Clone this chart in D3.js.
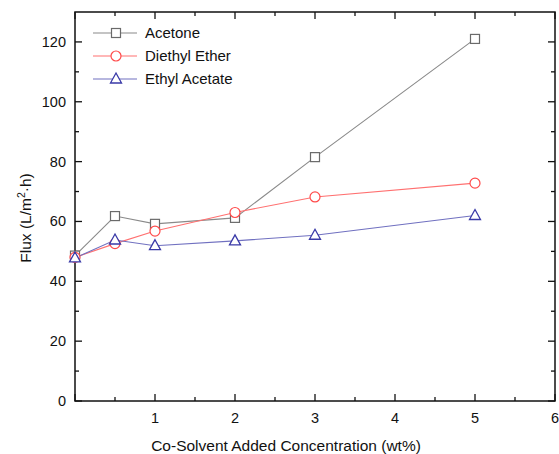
<!DOCTYPE html>
<html>
<head>
<meta charset="utf-8">
<script src="https://cdn.jsdelivr.net/npm/d3@7"></script>
<style>
body { margin: 0; background: #fff; }
text { font-family: Arial, "Liberation Sans", sans-serif; fill: #111; }
</style>
</head>
<body>
<div id="chart"></div>
<script>
// concentrations (wt%)
var conc = [0, 0.5, 1, 2, 3, 5];
var acetone = [48.6, 61.8, 59.2, 61.2, 81.5, 121];
var diethylEther = [48, 52.6, 56.8, 63, 68.2, 72.8];
var ethylAcetate = [47.8, 53.8, 51.9, 53.5, 55.4, 62];
var seriesNames = ["Acetone", "Diethyl Ether", "Ethyl Acetate"];
var xTicks = [1, 2, 3, 4, 5, 6];
var yTicks = [0, 20, 40, 60, 80, 100, 120];

var width = 559, height = 454;
var margin = {left: 75, right: 3, top: 12, bottom: 53};

var svg = d3.select("#chart").append("svg")
    .attr("width", width)
    .attr("height", height);

var x = d3.scaleLinear().domain([0, 6]).range([margin.left, width - margin.right - 1]);
var y = d3.scaleLinear().domain([0, 130]).range([height - margin.bottom, margin.top]);

var series = [
    {name: seriesNames[0], values: acetone, line: "#8a8a8a", mark: "#6a6a6a", shape: "square"},
    {name: seriesNames[1], values: diethylEther, line: "#ff7070", mark: "#ff4a4a", shape: "circle"},
    {name: seriesNames[2], values: ethylAcetate, line: "#7070c0", mark: "#3a3aa8", shape: "triangle"}
];

// frame
var x0 = x(0), x1 = x(6), y0 = y(0), y1 = y(130);
svg.append("rect")
    .attr("x", x0).attr("y", y1)
    .attr("width", x1 - x0).attr("height", y0 - y1)
    .attr("fill", "none").attr("stroke", "#111").attr("stroke-width", 1.5);

// ticks (inward, all four sides)
var xMinor = d3.range(0.5, 6, 1);
var yMinor = d3.range(10, 130, 20);
var tk = svg.append("g").attr("stroke", "#111").attr("stroke-width", 1.3);
xTicks.concat([0]).forEach(function (v) {
    tk.append("line").attr("x1", x(v)).attr("x2", x(v)).attr("y1", y0).attr("y2", y0 - 7);
    tk.append("line").attr("x1", x(v)).attr("x2", x(v)).attr("y1", y1).attr("y2", y1 + 7);
});
xMinor.forEach(function (v) {
    tk.append("line").attr("x1", x(v)).attr("x2", x(v)).attr("y1", y0).attr("y2", y0 - 4);
    tk.append("line").attr("x1", x(v)).attr("x2", x(v)).attr("y1", y1).attr("y2", y1 + 4);
});
yTicks.forEach(function (v) {
    tk.append("line").attr("x1", x0).attr("x2", x0 + 7).attr("y1", y(v)).attr("y2", y(v));
    tk.append("line").attr("x1", x1).attr("x2", x1 - 7).attr("y1", y(v)).attr("y2", y(v));
});
yMinor.forEach(function (v) {
    tk.append("line").attr("x1", x0).attr("x2", x0 + 4).attr("y1", y(v)).attr("y2", y(v));
    tk.append("line").attr("x1", x1).attr("x2", x1 - 4).attr("y1", y(v)).attr("y2", y(v));
});

// tick labels
svg.selectAll(".xl").data(xTicks).enter().append("text")
    .attr("x", function (d) { return x(d); })
    .attr("y", y0 + 22)
    .attr("text-anchor", "middle")
    .style("font-size", "14.5px")
    .text(function (d) { return d; });
svg.selectAll(".yl").data(yTicks).enter().append("text")
    .attr("x", x0 - 9)
    .attr("y", function (d) { return y(d) + 5; })
    .attr("text-anchor", "end")
    .style("font-size", "14.5px")
    .text(function (d) { return d; });

// axis titles
svg.append("text")
    .attr("x", 286)
    .attr("y", 451)
    .attr("text-anchor", "middle")
    .style("font-size", "15.5px")
    .text("Co-Solvent Added Concentration (wt%)");
var yt = svg.append("text")
    .attr("transform", "translate(31,218) rotate(-90)")
    .attr("text-anchor", "middle")
    .style("font-size", "15.5px");
yt.append("tspan").text("Flux (L/m");
yt.append("tspan").attr("dy", -6).style("font-size", "10.5px").text("2");
yt.append("tspan").attr("dy", 6).text("·h)");

function drawMarker(g, shape, cx, cy, color) {
    if (shape === "square") {
        g.append("rect").attr("x", cx - 4.5).attr("y", cy - 4.5).attr("width", 9).attr("height", 9)
            .attr("fill", "#fff").attr("stroke", color).attr("stroke-width", 1.2);
    } else if (shape === "circle") {
        g.append("circle").attr("cx", cx).attr("cy", cy).attr("r", 5)
            .attr("fill", "#fff").attr("stroke", color).attr("stroke-width", 1.2);
    } else {
        g.append("path").attr("d", "M" + cx + "," + (cy - 6) + "L" + (cx + 5.5) + "," + (cy + 4) + "L" + (cx - 5.5) + "," + (cy + 4) + "Z")
            .attr("fill", "#fff").attr("stroke", color).attr("stroke-width", 1.3);
    }
}

var line = d3.line()
    .x(function (d, i) { return x(conc[i]); })
    .y(function (d) { return y(d); });

series.forEach(function (s) {
    svg.append("path")
        .attr("d", line(s.values))
        .attr("fill", "none")
        .attr("stroke", s.line)
        .attr("stroke-width", 1.1);
});
series.forEach(function (s) {
    var g = svg.append("g");
    s.values.forEach(function (v, i) {
        drawMarker(g, s.shape, x(conc[i]), y(v), s.mark);
    });
});

// legend
var leg = svg.append("g");
series.forEach(function (s, i) {
    var ly = 33 + i * 23;
    leg.append("line").attr("x1", 93).attr("x2", 137).attr("y1", ly).attr("y2", ly)
        .attr("stroke", s.line).attr("stroke-width", 1.1);
    drawMarker(leg, s.shape, 116, ly, s.mark);
    leg.append("text").attr("x", 145).attr("y", ly + 5)
        .style("font-size", "15px")
        .text(s.name);
});
</script>
</body>
</html>
